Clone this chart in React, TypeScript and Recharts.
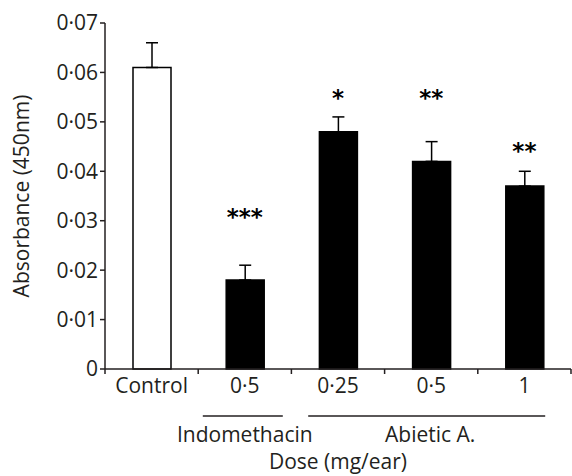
import { ComposedChart, Bar, Cell, ErrorBar, Line, XAxis, YAxis } from "recharts"

const groups = ["control", "indo05", "ab025", "ab05", "ab1"]
const doseLabels = ["Control", "0·5", "0·25", "0·5", "1"]
const means = [0.061, 0.018, 0.048, 0.042, 0.037]
const sems = [0.005, 0.003, 0.003, 0.004, 0.003]
const stars = ["", "***", "*", "**", "**"]
const starLevels = [null, 0.0318, 0.0559, 0.0559, 0.0451]
const yTicks = [0, 0.01, 0.02, 0.03, 0.04, 0.05, 0.06, 0.07]

const data = groups.map((g, i) => ({
  group: g,
  mean: means[i],
  err: [0, sems[i]],
  star: starLevels[i],
}))

const W = 572
const H = 476
const LEFT = 105
const RIGHT = 1
const BAND = (W - LEFT - RIGHT) / groups.length
const INK = "#231f20"
const FONT = "'Open Sans', sans-serif"
const FS = 21

const fmtY = (v: number) => (v === 0 ? "0" : v.toFixed(2).replace(".", "·"))

const DoseTick = ({ x, y, index }: any) => {
  const edge = x - BAND / 2
  return (
    <g>
      <line x1={edge} y1={y} x2={edge} y2={y + 5} stroke={INK} strokeWidth={1.5} />
      {index === groups.length - 1 && (
        <line x1={x + BAND / 2} y1={y} x2={x + BAND / 2} y2={y + 5} stroke={INK} strokeWidth={1.5} />
      )}
      <text x={x} y={y + 24} textAnchor="middle" fontSize={FS} fill={INK} fontFamily={FONT}>
        {doseLabels[index]}
      </text>
      {index === 1 && (
        <g>
          <line x1={x - 42} y1={y + 47} x2={x + 38} y2={y + 47} stroke={INK} strokeWidth={1.5} />
          <text x={x} y={y + 73} textAnchor="middle" fontSize={FS} fill={INK} fontFamily={FONT}>
            Indomethacin
          </text>
        </g>
      )}
      {index === 2 && (
        <text x={x} y={y + 100} textAnchor="middle" fontSize={FS} fill={INK} fontFamily={FONT}>
          Dose (mg/ear)
        </text>
      )}
      {index === 3 && (
        <g>
          <line x1={x - 123} y1={y + 47} x2={x + 114} y2={y + 47} stroke={INK} strokeWidth={1.5} />
          <text x={x - 1} y={y + 73} textAnchor="middle" fontSize={FS} fill={INK} fontFamily={FONT}>
            Abietic A.
          </text>
        </g>
      )}
    </g>
  )
}

const StarDot = (props: any) => {
  const { cx, cy, index } = props
  if (cy == null || !stars[index]) return <g key={`s-${index}`} />
  return (
    <text
      key={`s-${index}`}
      x={cx}
      y={cy + 13}
      textAnchor="middle"
      fontSize={23}
      fontWeight="bold"
      fill="#000"
      fontFamily="'DejaVu Sans', sans-serif"
    >
      {stars[index]}
    </text>
  )
}

export default function App() {
  return (
    <div style={{ position: "absolute", left: 0, top: 0, background: "#fff" }}>
      <ComposedChart width={W} height={H} data={data} margin={{ top: 23, right: RIGHT, bottom: 0, left: 0 }}>
        <XAxis
          dataKey="group"
          axisLine={{ stroke: INK, strokeWidth: 1.5 }}
          tickLine={false}
          tickSize={0}
          tickMargin={0}
          tick={<DoseTick />}
          interval={0}
          height={107}
        />
        <YAxis
          domain={[0, 0.07]}
          ticks={yTicks}
          tickFormatter={fmtY}
          width={LEFT}
          tickSize={5}
          tickMargin={2}
          axisLine={{ stroke: INK, strokeWidth: 1.5 }}
          tickLine={{ stroke: INK, strokeWidth: 1.5 }}
          tick={{ fontSize: FS, fill: INK, fontFamily: FONT }}
          label={{
            value: "Absorbance (450nm)",
            angle: -90,
            position: "center",
            dx: -31,
            fontSize: FS,
            fill: INK,
            fontFamily: FONT,
          }}
        />
        <Bar dataKey="mean" barSize={38} stroke="#000" strokeWidth={1.5} isAnimationActive={false}>
          {data.map((d, i) => (
            <Cell key={d.group} fill={i === 0 ? "#fff" : "#000"} />
          ))}
          <ErrorBar dataKey="err" width={6} stroke="#000" strokeWidth={1.5} direction="y" />
        </Bar>
        <Line
          dataKey="star"
          stroke="none"
          dot={StarDot}
          activeDot={false}
          legendType="none"
          isAnimationActive={false}
        />
      </ComposedChart>
    </div>
  )
}
